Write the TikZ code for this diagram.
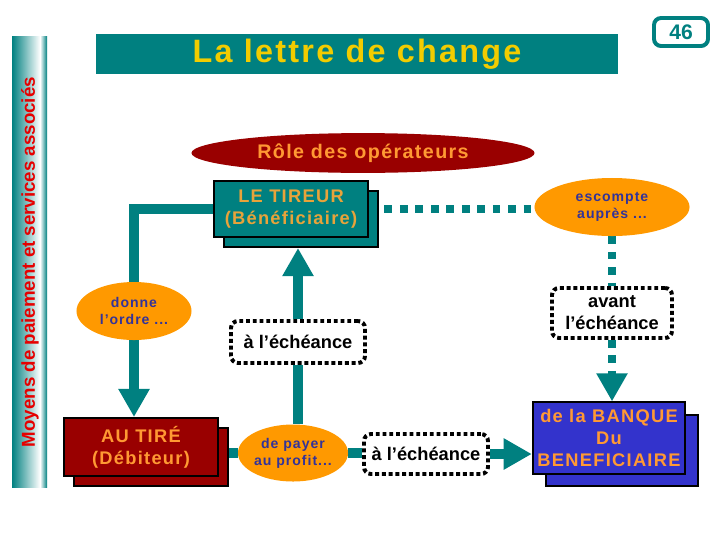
\documentclass[tikz,border=0pt]{standalone}
\usepackage{fontspec}
\setmainfont{Liberation Sans}
\newfontfamily\espace[LetterSpace=7]{Liberation Sans}
\usetikzlibrary{shapes.geometric, arrows.meta, shadows, backgrounds, calc}

\definecolor{canard}{RGB}{0,128,128}
\definecolor{bordeaux}{RGB}{153,0,0}
\definecolor{orangetxt}{RGB}{255,153,51}
\definecolor{oretxt}{RGB}{232,163,58}
\definecolor{orangefond}{RGB}{255,153,0}
\definecolor{bleunuit}{RGB}{51,51,153}
\definecolor{bleubanque}{RGB}{51,51,204}
\definecolor{jaunetitre}{RGB}{242,204,0}
\definecolor{rougebande}{RGB}{230,0,0}

\begin{document}
\begin{tikzpicture}[
        x=0.025cm, y=-0.025cm,
        acteur/.style={draw, line width=1.4pt, align=center, text=orangetxt,
            font=\espace\bfseries\fontsize{13}{15.5}\selectfont},
        ombre/.style={copy shadow={shadow xshift=#1, shadow yshift=-#1}},
        bulle/.style={ellipse, fill=orangefond, text=bleunuit, inner sep=0pt, align=center,
            font=\espace\bfseries\fontsize{10}{12}\selectfont},
        delai/.style={draw, rounded corners=5pt, line width=2.8pt, dash pattern=on 2.8pt off 2pt,
            fill=white, align=center, font=\bfseries\fontsize{13}{15.5}\selectfont},
        lien/.style={draw=canard, line width=7pt},
        pointille/.style={draw=canard, line width=5pt, dash pattern=on 5.5pt off 5.5pt},
        fleche/.style={-{Triangle[width=21pt, length=20pt]}}
    ]
        \useasboundingbox (0,0) rectangle (720,540);

        \shade[left color=canard, right color=white] (12,36) rectangle (40,487);
        \shade[left color=white, right color=canard] (40,36) rectangle (47,487);
        \node[rotate=90, text=rougebande, font=\bfseries\fontsize{13.3}{15}\selectfont] (bande) at (30,262)
            {Moyens de paiement et services associés};

        \node[fill=canard, minimum width=13.05cm, minimum height=0.9cm, text=jaunetitre,
            font=\espace\bfseries\fontsize{23}{27}\selectfont] (titre) at (357,54) {La lettre de change};
        \node[draw=canard, line width=2.8pt, rounded corners=5pt, minimum width=1.35cm, minimum height=0.7cm,
            text=canard, font=\bfseries\fontsize{15}{18}\selectfont] (numero) at (681,32) {46};
        \node[ellipse, fill=bordeaux, minimum width=8.575cm, minimum height=0.925cm, text=orangetxt,
            font=\espace\bfseries\fontsize{14}{16}\selectfont] (role) at (363,153) {Rôle des opérateurs};

        \node[acteur, ombre=0.25cm, fill=canard, text=oretxt, minimum width=3.85cm, minimum height=1.4cm]
            (tireur) at (291,209) {LE TIREUR\\(Bénéficiaire)};
        \node[acteur, ombre=0.25cm, fill=bordeaux, minimum width=3.85cm, minimum height=1.45cm]
            (tire) at (141,447) {AU TIRÉ\\(Débiteur)};
        \node[acteur, ombre=0.32cm, fill=bleubanque, minimum width=3.75cm, minimum height=1.78cm]
            (banque) at (609,438) {de la BANQUE\\Du\\BENEFICIAIRE};

        \node[bulle, minimum width=3.875cm, minimum height=1.45cm] (escompte) at (612,207) {escompte\\auprès ...};
        \node[bulle, minimum width=2.875cm, minimum height=1.45cm] (ordre) at (134,311) {donne\\l’ordre ...};
        \node[bulle, minimum width=2.625cm, minimum height=1.425cm] (payer) at (293,453) {de payer\\au profit...};

        \node[delai, minimum width=3.35cm, minimum height=1.05cm] (echeance) at (298,342) {à l’échéance};
        \node[delai, minimum width=3.0cm, minimum height=1.25cm] (avant) at (612,313) {avant\\l’échéance};
        \node[delai, minimum width=3.1cm, minimum height=1.0cm] (echeance2) at (426,454) {à l’échéance};

        \begin{scope}[on background layer]
            \draw[lien] (tireur.west) -| (ordre.north);
            \draw[lien, fleche] (ordre.south) -- (ordre.south |- tire.north);
            \draw[lien, fleche] (echeance.north) -- ($(echeance.north |- tireur.south)+(0,10)$);
            \draw[lien] (echeance.south) -- (echeance.south |- payer.north);
            \draw[lien] (tire.east |- payer.west) -- (payer.west);
            \draw[lien] (payer.east) -- (payer.east -| echeance2.west);
            \draw[lien, fleche] (echeance2.east) -- (echeance2.east -| banque.west);
            \draw[pointille] (tireur.east) -- (tireur.east -| escompte.west);
            \draw[pointille] (escompte.south) -- (avant.north);
            \draw[pointille, fleche] (avant.south) -- (avant.south |- banque.north);
        \end{scope}
    \end{tikzpicture}
\end{document}
